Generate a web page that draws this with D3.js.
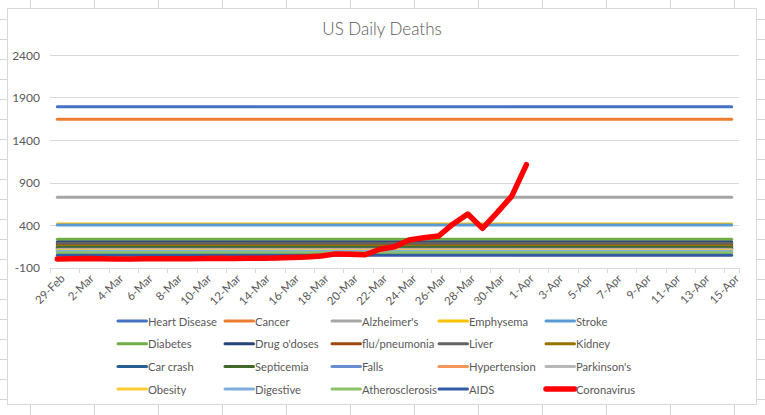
<!DOCTYPE html>
<html><head><meta charset="utf-8">
<script src="https://cdnjs.cloudflare.com/ajax/libs/d3/7.8.5/d3.min.js"></script>
<style>
html,body{margin:0;padding:0;background:#fff;}
svg{display:block;}
text{font-family:Lato,"Liberation Sans",sans-serif;fill:#595959;}
</style></head>
<body><svg id="c" width="765" height="415"></svg>
<script>
const categories = ["29-Feb","1-Mar","2-Mar","3-Mar","4-Mar","5-Mar","6-Mar","7-Mar","8-Mar","9-Mar","10-Mar","11-Mar","12-Mar","13-Mar","14-Mar","15-Mar","16-Mar","17-Mar","18-Mar","19-Mar","20-Mar","21-Mar","22-Mar","23-Mar","24-Mar","25-Mar","26-Mar","27-Mar","28-Mar","29-Mar","30-Mar","31-Mar","1-Apr","2-Apr","3-Apr","4-Apr","5-Apr","6-Apr","7-Apr","8-Apr","9-Apr","10-Apr","11-Apr","12-Apr","13-Apr","14-Apr","15-Apr"];
const xTickLabels = ["29-Feb","2-Mar","4-Mar","6-Mar","8-Mar","10-Mar","12-Mar","14-Mar","16-Mar","18-Mar","20-Mar","22-Mar","24-Mar","26-Mar","28-Mar","30-Mar","1-Apr","3-Apr","5-Apr","7-Apr","9-Apr","11-Apr","13-Apr","15-Apr"];
const yTicks = [-100,400,900,1400,1900,2400];
const causes = ["Heart Disease","Cancer","Alzheimer's","Emphysema","Stroke","Diabetes","Drug o'doses","flu/pneumonia","Liver","Kidney","Car crash","Septicemia","Falls","Hypertension","Parkinson's","Obesity","Digestive","Atherosclerosis","AIDS"];
const causeDaily = [1790,1643,727,412,401,232,200,168,185,150,125,135,115,110,105,100,92,75,45];
const causeColors = ["#4472C4","#ED7D31","#A5A5A5","#FFC000","#5B9BD5","#70AD47","#264478","#9E480E","#636363","#997300","#255E91","#43682B","#698ED0","#F1975A","#B7B7B7","#FFCD33","#7CAFDD","#8CC168","#335AA1"];
const coronaName = "Coronavirus";
const coronaDates = categories.slice(0,33);
const coronaDeaths = [1,3,6,3,0,0,2,3,4,4,5,8,6,10,10,13,18,24,35,60,55,50,115,145,224,250,270,412,529,360,545,740,1110];
const coronaColor = "#FF0000";

const svg = d3.select("#c");
// sheet gridlines
const sheetX = [30,94,158,222,286,350,414,478,542,606,670,734];
const sheetY = d3.range(-1,420,20);
svg.selectAll("line.sx").data(sheetX).join("line").attr("x1",d=>d+.5).attr("x2",d=>d+.5).attr("y1",0).attr("y2",415).attr("stroke","#d4d4d4");
svg.selectAll("line.sy").data(sheetY).join("line").attr("x1",0).attr("x2",765).attr("y1",d=>d+.5).attr("y2",d=>d+.5).attr("stroke","#d4d4d4");
// chart area
svg.append("rect").attr("x",7.5).attr("y",8.5).attr("width",749).attr("height",396).attr("fill","#fff").attr("stroke","#d9d9d9");

const x = d3.scaleBand().domain(categories).range([50,739]);
const cx = d => x(d) + x.bandwidth()/2;
const y = d3.scaleLinear().domain([-100,2400]).range([267.5,55]);

// title
svg.append("text").attr("x",382).attr("y",28).attr("text-anchor","middle").attr("dominant-baseline","central")
  .style("font-size","17px").style("font-weight","300").text("US Daily Deaths");

// gridlines
svg.append("g").selectAll("line").data(yTicks).join("line")
  .attr("x1",50).attr("x2",739).attr("y1",d=>Math.round(y(d))+.5).attr("y2",d=>Math.round(y(d))+.5)
  .attr("stroke","#d9d9d9").attr("stroke-width",1);
// y labels
svg.append("g").selectAll("text").data(yTicks).join("text")
  .attr("x",40).attr("y",d=>y(d)).attr("text-anchor","end").attr("dominant-baseline","central")
  .style("font-size","12px").text(d=>d);
// x tick marks every 2 categories at band boundaries
const tickCats = categories.filter((c,i)=>i%2===0);
svg.append("g").selectAll("line").data(tickCats.concat(["__end"])).join("line")
  .attr("x1",d=>d==="__end"?739.5:Math.round(x(d))+.5).attr("x2",d=>d==="__end"?739.5:Math.round(x(d))+.5)
  .attr("y1",268).attr("y2",273).attr("stroke","#d9d9d9");
// x labels
svg.append("g").selectAll("text").data(xTickLabels).join("text")
  .attr("transform",d=>`translate(${cx(d)+5},${276}) rotate(-45)`)
  .attr("text-anchor","end").attr("dominant-baseline","central")
  .style("font-size","11.5px").text(d=>d);

// cause lines
const line = d3.line().x(d=>cx(d[0])).y(d=>y(d[1]));
const g = svg.append("g").attr("fill","none").attr("stroke-linecap","round").attr("stroke-linejoin","round");
causes.forEach((name,i)=>{
  g.append("path").attr("d",line(categories.map(c=>[c,causeDaily[i]])))
   .attr("stroke",causeColors[i]).attr("stroke-width",3);
});
g.append("path").attr("d",line(coronaDates.map((c,i)=>[c,coronaDeaths[i]])))
  .attr("stroke",coronaColor).attr("stroke-width",5.5);

// legend
const legendNames = causes.concat([coronaName]);
const legendColors = causeColors.concat([coronaColor]);
const lg = svg.append("g");
legendNames.forEach((n,i)=>{
  const col=i%5,row=Math.floor(i/5);
  const lx=118+107*col, ly=321+22.7*row;
  lg.append("line").attr("x1",lx).attr("x2",lx+28.5).attr("y1",ly).attr("y2",ly)
    .attr("stroke",legendColors[i]).attr("stroke-width",n===coronaName?5.5:3).attr("stroke-linecap","round");
  lg.append("text").attr("x",lx+30).attr("y",ly).attr("dominant-baseline","central")
    .style("font-size","11.2px").text(n);
});
</script></body></html>
